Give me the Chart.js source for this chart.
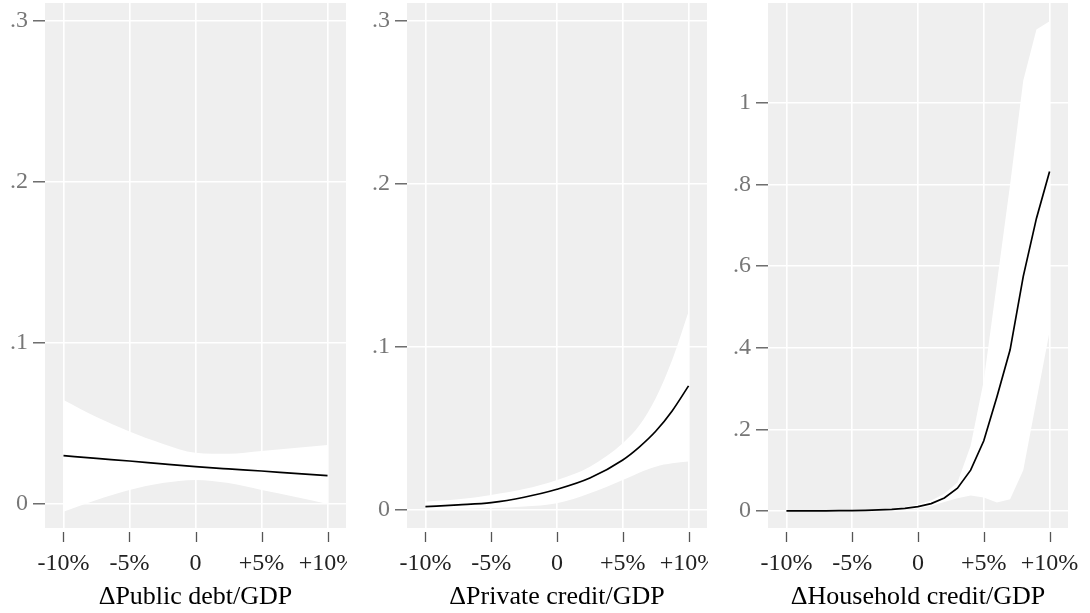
<!DOCTYPE html>
<html>
<head>
<meta charset="utf-8">
<script src="https://cdn.jsdelivr.net/npm/chart.js@4.4.1/dist/chart.umd.min.js"></script>
<style>
body{margin:0;background:#fff;}
#wrap{position:relative;width:1090px;height:613px;overflow:hidden;}
#wrap canvas{position:absolute;top:0;}
</style>
</head>
<body>
<div id="wrap">
  <canvas id="c1" width="347" height="613" style="left:0px"></canvas>
  <canvas id="c2" width="358" height="613" style="left:350px"></canvas>
  <canvas id="c3" width="378" height="613" style="left:712px"></canvas>
</div>
<script>
// axis ticks
const X_TICKS = [-10,-5,0,5,10];
const X_LABELS = ['-10%','-5%','0','+5%','+10%'];
const Y_TICKS_SMALL = [0,0.1,0.2,0.3];
const Y_LABELS_SMALL = ['0','.1','.2','.3'];
const Y_TICKS_HH = [0,0.2,0.4,0.6,0.8,1];
const Y_LABELS_HH = ['0','.2','.4','.6','.8','1'];

// public debt panel
const pubX     = [-10,-7.5,-5,-2.5,0,2.5,5,7.5,10];
const pubMean  = [0.0300,0.0283,0.0267,0.0249,0.0232,0.0218,0.0205,0.0190,0.0176];
const pubUpper = [0.0646,0.0540,0.0450,0.0375,0.0319,0.0312,0.0330,0.0348,0.0366];
const pubLower = [-0.0048,0.0025,0.0087,0.0130,0.0149,0.0130,0.0087,0.0045,0.0000];

// private credit panel
const privX     = [-10,-7.5,-5,-2.5,0,2.5,5,6.25,7.5,8.75,10];
const privMean  = [0.0017,0.0028,0.0042,0.0075,0.0124,0.0193,0.0304,0.0383,0.0480,0.0605,0.0759];
const privUpper = [0.0048,0.0062,0.0089,0.0125,0.0181,0.0263,0.0407,0.0515,0.0683,0.0918,0.1215];
const privLower = [0.0002,0.0004,0.0009,0.0018,0.0038,0.0100,0.0181,0.0226,0.0263,0.0283,0.0294];

// household credit panel
const hhX     = [-10,-9,-8,-7,-6,-5,-4,-3,-2,-1,0,1,2,3,4,5,6,7,8,9,10];
const hhMean  = [0.0002,0.0003,0.0004,0.0005,0.0007,0.0010,0.0015,0.0025,0.0040,0.0065,0.0105,0.018,0.032,0.056,0.100,0.172,0.280,0.395,0.575,0.717,0.832];
const hhUpper = [0.0004,0.0005,0.0007,0.0009,0.0012,0.0017,0.0025,0.0040,0.0065,0.0100,0.0160,0.026,0.042,0.070,0.160,0.320,0.560,0.800,1.055,1.180,1.200];
const hhLower = [0.0000,0.0001,0.0001,0.0001,0.0002,0.0003,0.0006,0.0011,0.0020,0.0038,0.0065,0.012,0.022,0.031,0.038,0.033,0.021,0.029,0.100,0.270,0.440];

const FONT = 'Liberation Serif';

const pts = (xs,ys) => xs.map((x,i)=>({x, y:ys[i]}));

// grey panel background, only behind the plot area
const panelBg = {
  id:'panelBg',
  beforeDraw(chart){
    const {ctx, chartArea:a} = chart;
    ctx.save();
    ctx.fillStyle = '#efefef';
    ctx.fillRect(a.left, a.top, a.right-a.left, a.bottom-a.top);
    ctx.restore();
  }
};

// x tick marks sit a little below the panel
const xTickMarks = {
  id:'xTickMarks',
  afterDraw(chart){
    const {ctx, chartArea:a, scales:{x}} = chart;
    ctx.save();
    ctx.strokeStyle = '#555';
    ctx.lineWidth = 1.3;
    X_TICKS.forEach(v=>{
      const px = Math.round(x.getPixelForValue(v))+0.5;
      ctx.beginPath();
      ctx.moveTo(px, a.bottom+4);
      ctx.lineTo(px, a.bottom+14);
      ctx.stroke();
    });
    ctx.restore();
  }
};

function makePanel(id, cfg){
  const band = {borderColor:'rgba(0,0,0,0)', borderWidth:0, pointRadius:0,
                cubicInterpolationMode:cfg.mode, tension:0};
  new Chart(document.getElementById(id), {
    type:'line',
    data:{ datasets:[
      { data:pts(cfg.xs,cfg.mean), borderColor:'#000', borderWidth:1.7, pointRadius:0,
        fill:false, cubicInterpolationMode:cfg.mode, tension:0 },
      Object.assign({ data:pts(cfg.xs,cfg.upper), backgroundColor:'#fff', fill:'+1' }, band),
      Object.assign({ data:pts(cfg.xs,cfg.lower), fill:false }, band)
    ]},
    options:{
      responsive:false, animation:false, events:[],
      layout:{ padding:{ top:3, right:cfg.padRight, left:0, bottom:0 } },
      plugins:{ legend:{ display:false }, tooltip:{ enabled:false } },
      scales:{
        x:{ type:'linear', min:-11.4, max:11.4,
            afterBuildTicks:s=>{ s.ticks = X_TICKS.map(v=>({value:v})); },
            afterFit:s=>{ s.height = 85; s.paddingLeft = 0; s.paddingRight = 0; },
            grid:{ color:'#fff', lineWidth:1.6, drawTicks:true, tickLength:14, tickColor:'rgba(0,0,0,0)' },
            border:{ display:false },
            ticks:{ callback:(v,i)=>X_LABELS[i], color:'#222', autoSkip:false, maxRotation:0,
                    padding:7, font:{ family:FONT, size:24 } },
            title:{ display:true, text:cfg.title, color:'#000',
                    font:{ family:FONT, size:26 }, padding:{ top:0, bottom:0 } } },
        y:{ type:'linear', min:cfg.ymin, max:cfg.ymax,
            afterBuildTicks:s=>{ s.ticks = cfg.yTicks.map(v=>({value:v})); },
            afterFit:s=>{ s.width = cfg.yWidth; s.paddingTop = 0; s.paddingBottom = 0; },
            grid:{ color:'#fff', lineWidth:1.6, tickLength:12, tickColor:'#555', tickWidth:1.3 },
            border:{ display:false },
            ticks:{ callback:(v,i)=>cfg.yLabels[i], color:'#777', autoSkip:false,
                    padding:5, font:{ family:FONT, size:24 } } }
      }
    },
    plugins:[panelBg, xTickMarks]
  });
}

makePanel('c1', { xs:pubX, mean:pubMean, upper:pubUpper, lower:pubLower, mode:'monotone',
  ymin:-0.0149, ymax:0.3112, yTicks:Y_TICKS_SMALL, yLabels:Y_LABELS_SMALL,
  yWidth:45, padRight:1, title:'\u0394Public debt/GDP' });

makePanel('c2', { xs:privX, mean:privMean, upper:privUpper, lower:privLower, mode:'monotone',
  ymin:-0.0114, ymax:0.3111, yTicks:Y_TICKS_SMALL, yLabels:Y_LABELS_SMALL,
  yWidth:57, padRight:1, title:'\u0394Private credit/GDP' });

makePanel('c3', { xs:hhX, mean:hhMean, upper:hhUpper, lower:hhLower, mode:'default',
  ymin:-0.0417, ymax:1.245, yTicks:Y_TICKS_HH, yLabels:Y_LABELS_HH,
  yWidth:56, padRight:22, title:'\u0394Household credit/GDP' });
</script>
</body>
</html>
